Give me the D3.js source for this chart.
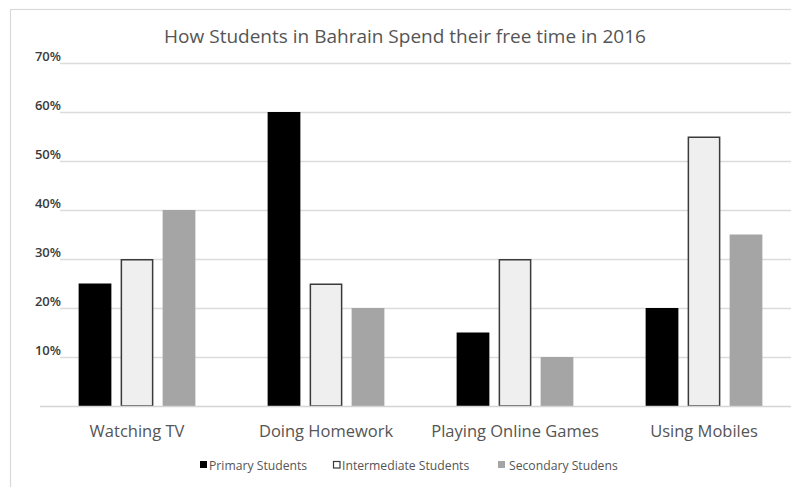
<!DOCTYPE html>
<html>
<head>
<meta charset="utf-8">
<script src="https://cdn.jsdelivr.net/npm/d3@7"></script>
<style>
  html, body { margin: 0; padding: 0; background: #fff; }
  svg { display: block; font-family: "Open Sans", "Noto Sans", sans-serif; }
</style>
</head>
<body>
<svg id="chart" width="791" height="487"></svg>
<script>
// Activities (x categories)
const categories = ["Watching TV", "Doing Homework", "Playing Online Games", "Using Mobiles"];
// Student groups (series)
const seriesNames = ["Primary Students", "Intermediate Students", "Secondary Studens"];
// Share of students per activity, in percent
const primaryValues = [25, 60, 15, 20];
const intermediateValues = [30, 25, 30, 55];
const secondaryValues = [40, 20, 10, 35];
// Y-axis ticks
const yTicks = [10, 20, 30, 40, 50, 60, 70];

const seriesValues = [primaryValues, intermediateValues, secondaryValues];
const fills = ["#000000", "#efefef", "#a5a5a5"];
const strokes = ["none", "#3a3a3a", "none"];

const svg = d3.select("#chart");
const W = 791, H = 487;

// Outer chart frame (only left/top edges fall inside the view)
svg.append("rect")
  .attr("x", 10.5).attr("y", 9.5)
  .attr("width", 800).attr("height", 500)
  .attr("fill", "none").attr("stroke", "#d9d9d9").attr("stroke-width", 1.2);

const plot = { left: 42.5, right: 798.5, top: 63, bottom: 406 };

const x0 = d3.scaleBand()
  .domain(categories)
  .range([plot.left, plot.right])
  .paddingInner(1 / 3)
  .paddingOuter(1 / 6);

const x1 = d3.scaleBand()
  .domain(seriesNames)
  .range([0, x0.bandwidth()])
  .paddingInner(0.22)
  .paddingOuter(0.11);

const y = d3.scaleLinear().domain([0, 70]).range([plot.bottom, plot.top]);

// Horizontal gridlines
svg.append("g")
  .selectAll("line")
  .data(yTicks)
  .join("line")
  .attr("x1", 60).attr("x2", W)
  .attr("y1", d => Math.round(y(d)) + 0.5)
  .attr("y2", d => Math.round(y(d)) + 0.5)
  .attr("stroke", "#dcdcdc")
  .attr("stroke-width", 1.5);

// Y tick labels
svg.append("g")
  .selectAll("text")
  .data(yTicks)
  .join("text")
  .attr("x", 61)
  .attr("y", d => y(d) - 2)
  .attr("text-anchor", "end")
  .attr("font-size", 13)
  .attr("font-weight", 600)
  .attr("fill", "#3a3a3a")
  .text(d => d + "%");

// Bars
const groups = svg.append("g")
  .selectAll("g")
  .data(categories)
  .join("g")
  .attr("transform", c => `translate(${x0(c)},0)`);

groups.selectAll("rect")
  .data((c, ci) => seriesNames.map((s, si) => ({ s, si, v: seriesValues[si][ci] })))
  .join("rect")
  .attr("x", d => x1(d.s) + (d.si === 1 ? 0.75 : 0))
  .attr("y", d => y(d.v) + (d.si === 1 ? 0.75 : 0))
  .attr("width", d => x1.bandwidth() - (d.si === 1 ? 1.5 : 0))
  .attr("height", d => y(0) - y(d.v) - (d.si === 1 ? 0.75 : 0))
  .attr("fill", d => fills[d.si])
  .attr("stroke", d => strokes[d.si])
  .attr("stroke-width", 1.5);

// Baseline
svg.append("line")
  .attr("x1", 40).attr("x2", W)
  .attr("y1", plot.bottom + 0.5).attr("y2", plot.bottom + 0.5)
  .attr("stroke", "#d4d4d4").attr("stroke-width", 1.5);

// Category labels
svg.append("g")
  .selectAll("text")
  .data(categories)
  .join("text")
  .attr("x", c => x0(c) + x0.bandwidth() / 2)
  .attr("y", 437)
  .attr("text-anchor", "middle")
  .attr("font-size", 16.5)
  .attr("fill", "#555")
  .text(c => c);

// Title
svg.append("text")
  .attr("x", 405).attr("y", 43)
  .attr("text-anchor", "middle")
  .attr("font-size", 19)
  .attr("fill", "#555")
  .text("How Students in Bahrain Spend their free time in 2016");

// Legend
const legendX = [200, 333, 498];
const legend = svg.append("g")
  .selectAll("g")
  .data(seriesNames)
  .join("g")
  .attr("transform", (d, i) => `translate(${legendX[i]},466)`);

legend.append("rect")
  .attr("x", (d, i) => i === 1 ? 0.5 : 0)
  .attr("y", (d, i) => i === 1 ? -4.5 : -5)
  .attr("width", (d, i) => i === 1 ? 6.5 : 7)
  .attr("height", (d, i) => i === 1 ? 6.5 : 7)
  .attr("fill", (d, i) => i === 1 ? "#fff" : fills[i])
  .attr("stroke", (d, i) => strokes[i])
  .attr("stroke-width", 1.2);

legend.append("text")
  .attr("x", (d, i) => i === 2 ? 11 : 9)
  .attr("y", 4)
  .attr("font-size", 12.2)
  .attr("fill", "#555")
  .text(d => d);
</script>
</body>
</html>
